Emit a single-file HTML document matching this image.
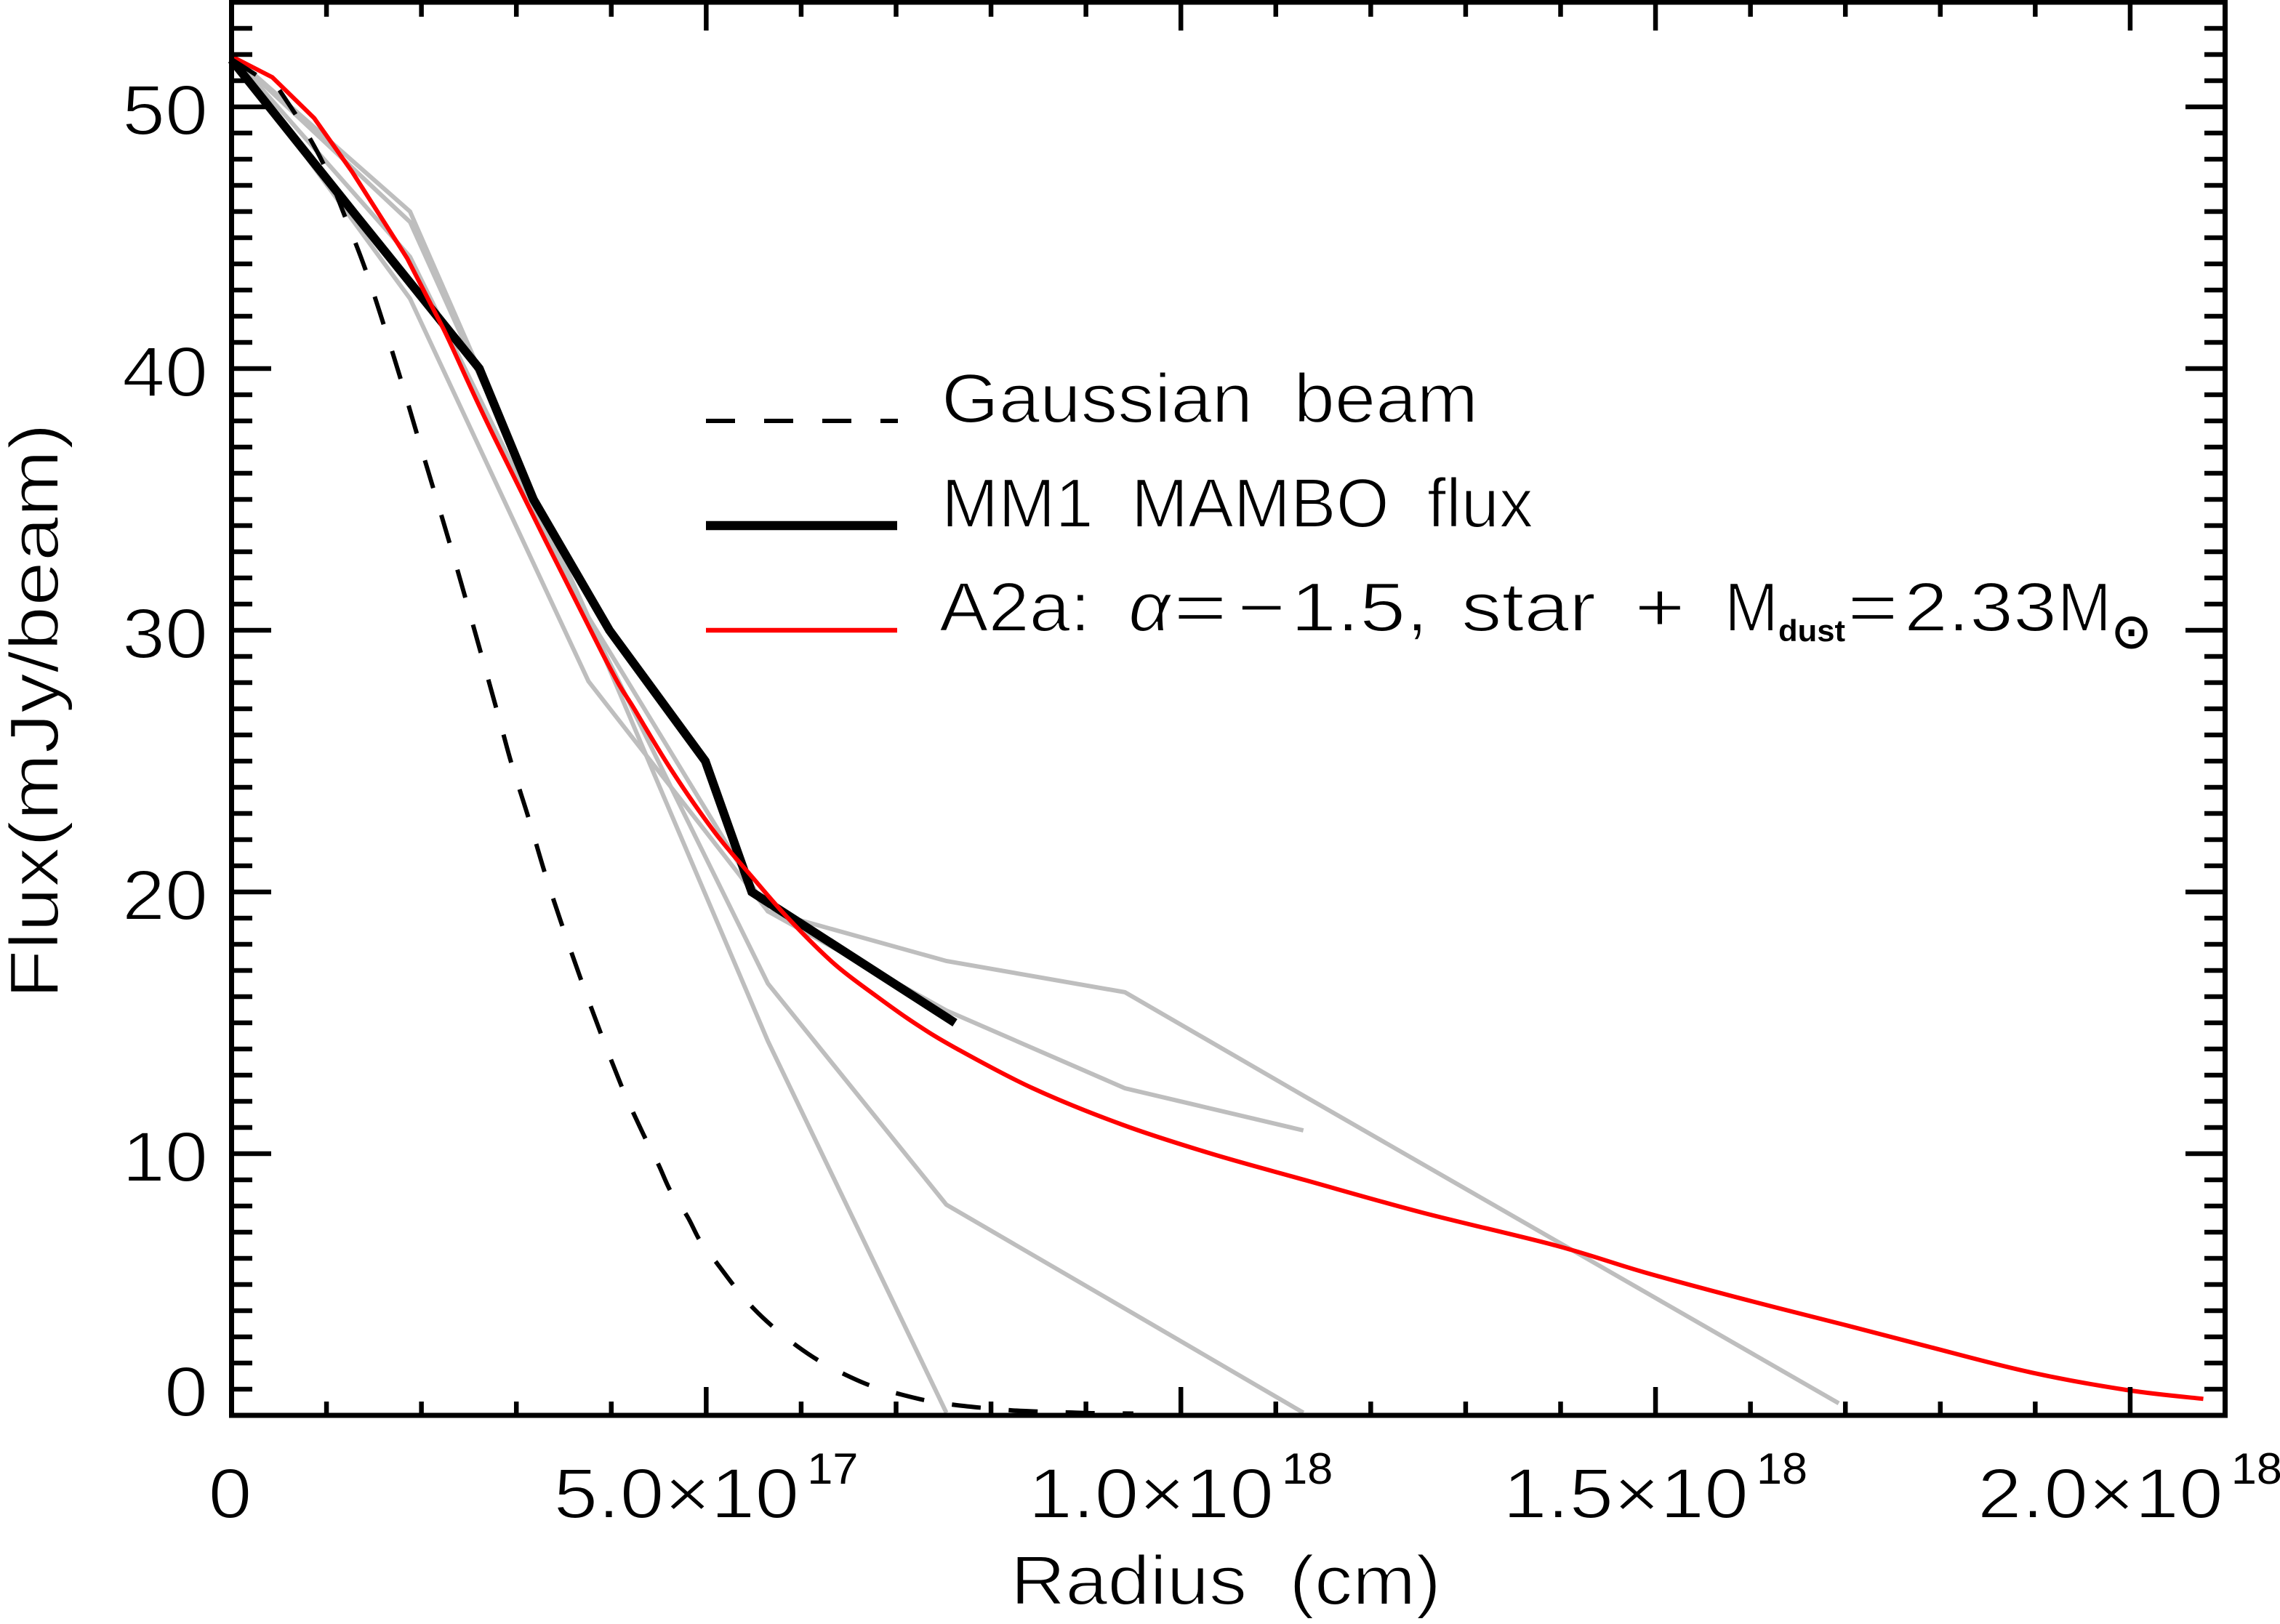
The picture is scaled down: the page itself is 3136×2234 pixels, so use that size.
<!DOCTYPE html>
<html>
<head>
<meta charset="utf-8">
<title>Flux vs Radius</title>
<style>
html,body{margin:0;padding:0;background:#fff;}
svg{display:block;}
text{font-family:"Liberation Sans",sans-serif;fill:#000;stroke:#fff;stroke-width:2px;white-space:pre;}
</style>
</head>
<body>
<svg id="chart" xmlns="http://www.w3.org/2000/svg" width="3136" height="2234" viewBox="0 0 3136 2234">
<rect x="0" y="0" width="3136" height="2234" fill="#fff"/>

<g id="labels"></g>

<text transform="translate(80,1374) rotate(-90)" font-size="96" textLength="792" lengthAdjust="spacingAndGlyphs">Flux(mJy/beam)</text>
<text x="1390" y="2207" font-size="96" textLength="592" lengthAdjust="spacingAndGlyphs">Radius  (cm)</text>

<g>
  <line x1="971" y1="579" x2="1235" y2="579" stroke="#000" stroke-width="6" stroke-dasharray="40 40"/>
  <line x1="971" y1="723" x2="1234" y2="723" stroke="#000" stroke-width="12.5"/>
  <line x1="971" y1="867" x2="1234" y2="867" stroke="#f00" stroke-width="6.5"/>
  <text x="1295" y="581" font-size="96" textLength="738" lengthAdjust="spacingAndGlyphs">Gaussian  beam</text>
  <text x="1295" y="725" font-size="96" textLength="814" lengthAdjust="spacingAndGlyphs">MM1  MAMBO  flux</text>
  <g>
    <text x="1292" y="868" font-size="96" textLength="208" lengthAdjust="spacingAndGlyphs">A2a:</text>
    <text x="1552" y="868" font-size="96" font-style="italic" textLength="58" lengthAdjust="spacingAndGlyphs">α</text>
    <text x="1614" y="868" font-size="96" textLength="74" lengthAdjust="spacingAndGlyphs">=</text>
    <text x="1702" y="868" font-size="96" textLength="66" lengthAdjust="spacingAndGlyphs">−</text>
    <text x="1775" y="868" font-size="96" textLength="190" lengthAdjust="spacingAndGlyphs">1.5,</text>
    <text x="2010" y="868" font-size="96" textLength="185" lengthAdjust="spacingAndGlyphs">star</text>
    <text x="2248" y="868" font-size="96" textLength="70" lengthAdjust="spacingAndGlyphs">+</text>
    <text x="2372" y="868" font-size="96" textLength="74" lengthAdjust="spacingAndGlyphs">M</text>
    <text x="2446" y="882" font-size="42" font-weight="bold" textLength="92" lengthAdjust="spacingAndGlyphs" style="stroke:none">dust</text>
    <text x="2541" y="868" font-size="96" textLength="70" lengthAdjust="spacingAndGlyphs">=</text>
    <text x="2619" y="868" font-size="96" textLength="210" lengthAdjust="spacingAndGlyphs">2.33</text>
    <text x="2830" y="868" font-size="96" textLength="74" lengthAdjust="spacingAndGlyphs">M</text>
    <text x="2904" y="891" font-size="66" style="font-family:'DejaVu Sans',sans-serif;stroke:#000;stroke-width:1.2px">⊙</text>
  </g>
</g>

<g id="series"></g>
<g id="ticks"></g>
<rect x="318.5" y="3" width="2742" height="1944" fill="none" stroke="#000" stroke-width="7"/>
</svg>

<script>
// Axis ticks
const xMajorTicks = [0, 5, 10, 15, 20];
const xMinorTicks = [1, 2, 3, 4, 6, 7, 8, 9, 11, 12, 13, 14, 16, 17, 18, 19, 21];
const xTickLabels = ["0", "5.0×10", "1.0×10", "1.5×10", "2.0×10"];
const xTickExponents = ["", "17", "18", "18", "18"];
const yMajorTicks = [0, 10, 20, 30, 40, 50];
const yMinorTicks = [1,2,3,4,5,6,7,8,9,11,12,13,14,15,16,17,18,19,21,22,23,24,25,26,27,28,29,31,32,33,34,35,36,37,38,39,41,42,43,44,45,46,47,48,49,51,52,53];
const yTickLabels = ["0", "10", "20", "30", "40", "50"];

// Radius in units of 1e17 cm, flux in mJy/beam
const gaussianRadius = [0, 0.5, 0.67, 0.96, 1.19, 1.41, 1.6, 1.78, 1.95, 2.37, 2.79, 2.95, 3.13, 3.3, 3.49, 3.69, 3.9, 4.12, 4.24, 4.37, 4.5, 4.63, 4.8, 4.94, 5.12, 5.3, 5.5, 5.72, 5.96, 6.2, 6.48, 6.75, 7.04, 7.33, 7.64, 7.93, 8.23, 8.53, 8.83, 9.14, 9.5];
const gaussianFlux = [51.82, 50.66, 49.74, 47.88, 45.85, 43.79, 41.71, 39.62, 37.54, 32.42, 27.0, 24.89, 22.81, 20.73, 18.64, 16.56, 14.5, 12.47, 11.5, 10.5, 9.56, 8.53, 7.61, 6.64, 5.78, 4.92, 4.08, 3.33, 2.64, 2.06, 1.53, 1.11, 0.81, 0.56, 0.39, 0.28, 0.19, 0.14, 0.11, 0.08, 0.07];

const mamboRadius = [0, 1.3, 2.61, 3.18, 3.98, 4.99, 5.48, 7.62];
const mamboFlux = [51.8, 45.9, 40, 35, 30, 25, 20, 15];

const modelRadius = [0, 0.43, 0.87, 1.27, 1.85, 2.24, 2.76, 3.91, 4.25, 4.64, 5.09, 5.48, 5.87, 6.35, 6.8, 7.19, 7.62, 8.44, 9.38, 10.32, 11.31, 12.54, 13.95, 14.88, 15.93, 16.98, 17.87, 18.93, 19.98, 20.77];
const modelFlux = [51.93, 51.13, 49.57, 47.52, 44.21, 41.46, 37.43, 29.09, 26.95, 24.62, 22.28, 20.59, 18.97, 17.25, 16.0, 15.0, 14.05, 12.5, 11.11, 10.0, 8.99, 7.75, 6.49, 5.47, 4.44, 3.47, 2.63, 1.66, 0.96, 0.63];

const annulusARadius = [0, 1.88, 3.76, 5.65, 7.53];
const annulusAFlux = [52, 46.0, 30.4, 14.3, 0.1];
const annulusBRadius = [0, 1.88, 3.76, 5.65, 7.53, 9.41, 11.29];
const annulusBFlux = [52, 44.27, 30.4, 16.5, 8.05, 4.08, 0.1];
const annulusCRadius = [0, 1.88, 3.76, 5.65, 7.53, 9.41, 11.29];
const annulusCFlux = [52, 45.6, 30.5, 19.26, 15.47, 12.5, 10.89];
const annulusDRadius = [0, 1.88, 3.76, 5.65, 7.53, 9.41, 11.29, 16.93];
const annulusDFlux = [52, 42.67, 28.05, 19.26, 17.36, 16.17, 12.22, 0.46];

const NS = "http://www.w3.org/2000/svg";
function xScale(v) { return 318.5 + v * 2742 / 21; }
function yScale(v) { return 1947 - v * 36; }

const ticksGroup = document.getElementById("ticks");
const seriesGroup = document.getElementById("series");
const labelsGroup = document.getElementById("labels");

function tickLine(x1, y1, x2, y2) {
  const el = document.createElementNS(NS, "line");
  el.setAttribute("x1", x1);
  el.setAttribute("y1", y1);
  el.setAttribute("x2", x2);
  el.setAttribute("y2", y2);
  el.setAttribute("stroke", "#000");
  el.setAttribute("stroke-width", "6.5");
  
  
  ticksGroup.appendChild(el);
}
xMinorTicks.forEach(function (t) {
  const x = xScale(t);
  tickLine(x, 1947, x, 1928);
  tickLine(x, 3, x, 23);
});
xMajorTicks.forEach(function (t) {
  const x = xScale(t);
  tickLine(x, 1947, x, 1908);
  tickLine(x, 3, x, 42);
});
yMinorTicks.forEach(function (t) {
  const y = yScale(t);
  tickLine(318.5, y, 347, y);
  tickLine(3060.5, y, 3032, y);
});
yMajorTicks.forEach(function (t) {
  const y = yScale(t);
  tickLine(318.5, y, 373, y);
  tickLine(3060.5, y, 3006, y);
});

function labelText(str, x, y, size, anchor, length, noStroke) {
  const el = document.createElementNS(NS, "text");
  el.textContent = str;
  el.setAttribute("x", x);
  el.setAttribute("y", y);
  el.setAttribute("font-size", size);
  el.setAttribute("text-anchor", anchor);
  if (length) {
    el.setAttribute("textLength", length);
    el.setAttribute("lengthAdjust", "spacingAndGlyphs");
  }
  if (noStroke) el.style.stroke = "none";
  
  
  labelsGroup.appendChild(el);
}
yMajorTicks.forEach(function (t, i) {
  const baseline = t === 0 ? 1948 : yScale(t) + 38;
  const len = yTickLabels[i].length > 1 ? 118 : 60;
  labelText(yTickLabels[i], 286, baseline, 97, "end", len);
});
xMajorTicks.forEach(function (t, i) {
  const x = xScale(t);
  if (xTickExponents[i] === "") {
    labelText(xTickLabels[i], x - 2, 2088, 97, "middle", 60);
  } else {
    labelText(xTickLabels[i], x - 210, 2088, 97, "start", 338);
    labelText(xTickExponents[i], x + 139, 2041, 60, "start", 70, true);
  }
});

function styleSeries(el, color, width, dash, name) {
  el.setAttribute("fill", "none");
  el.setAttribute("stroke", color);
  el.setAttribute("stroke-width", width);
  el.setAttribute("stroke-linejoin", "miter");
  if (dash) el.setAttribute("stroke-dasharray", dash);
  
  
  seriesGroup.appendChild(el);
}
function drawSeries(xs, ys, color, width, dash, name) {
  const el = document.createElementNS(NS, "polyline");
  const pts = xs.map(function (x, i) {
    return xScale(x).toFixed(1) + "," + yScale(ys[i]).toFixed(1);
  }).join(" ");
  el.setAttribute("points", pts);
  styleSeries(el, color, width, dash, name);
}
// Straight segments up to sharpCount points, then a smooth curve through the rest.
function drawSmoothSeries(xs, ys, color, width, dash, name, sharpCount) {
  const px = xs.map(xScale);
  const py = ys.map(yScale);
  let d = "M" + px[0].toFixed(1) + " " + py[0].toFixed(1);
  for (let i = 0; i < px.length - 1; i++) {
    if (i + 1 < sharpCount) {
      d += " L" + px[i + 1].toFixed(1) + " " + py[i + 1].toFixed(1);
      continue;
    }
    const i0 = Math.max(i - 1, 0);
    const i3 = Math.min(i + 2, px.length - 1);
    const c1x = px[i] + (px[i + 1] - px[i0]) / 6;
    const c1y = py[i] + (py[i + 1] - py[i0]) / 6;
    const c2x = px[i + 1] - (px[i3] - px[i]) / 6;
    const c2y = py[i + 1] - (py[i3] - py[i]) / 6;
    d += " C" + c1x.toFixed(1) + " " + c1y.toFixed(1) + " " + c2x.toFixed(1) + " " + c2y.toFixed(1) + " " + px[i + 1].toFixed(1) + " " + py[i + 1].toFixed(1);
  }
  const el = document.createElementNS(NS, "path");
  el.setAttribute("d", d);
  styleSeries(el, color, width, dash, name);
}
drawSeries(annulusARadius, annulusAFlux, "#bebebe", 6, null, "gray-profile-a");
drawSeries(annulusBRadius, annulusBFlux, "#bebebe", 6, null, "gray-profile-b");
drawSeries(annulusCRadius, annulusCFlux, "#bebebe", 6, null, "gray-profile-c");
drawSeries(annulusDRadius, annulusDFlux, "#bebebe", 6, null, "gray-profile-d");
drawSeries(mamboRadius, mamboFlux, "#000", 12, null, "mm1-mambo-flux-line");
drawSmoothSeries(modelRadius, modelFlux, "#f00", 6, null, "a2a-model-line", 6);
drawSmoothSeries(gaussianRadius, gaussianFlux, "#000", 6, "40 38.5", "gaussian-beam-line", 3);
</script>
</body>
</html>
